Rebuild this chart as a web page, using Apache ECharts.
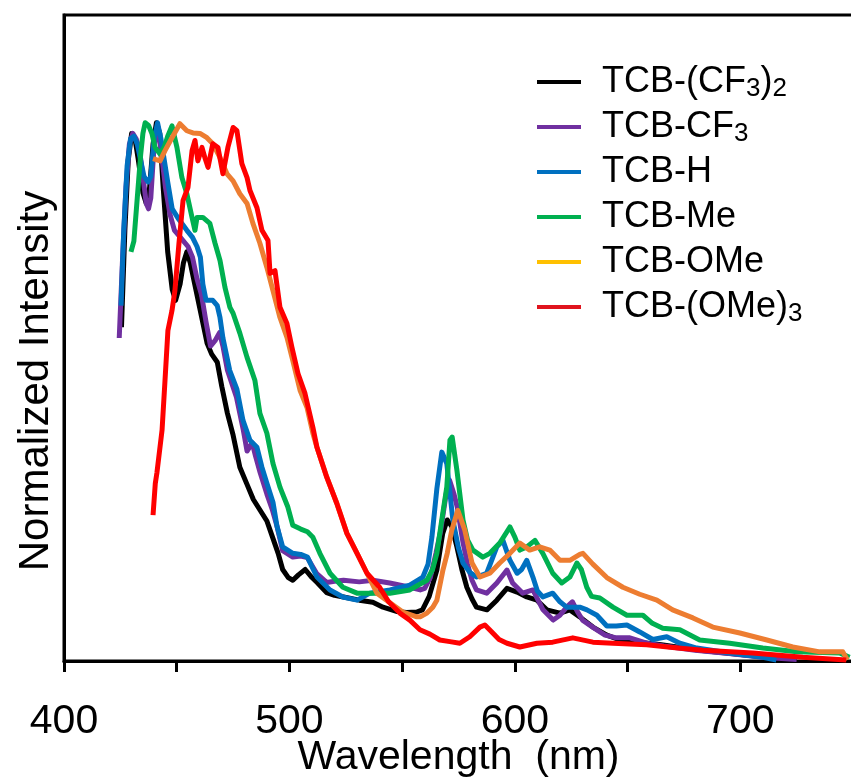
<!DOCTYPE html>
<html>
<head>
<meta charset="utf-8">
<script src="https://cdn.jsdelivr.net/npm/echarts@6/dist/echarts.min.js"></script>
<style>
html,body{margin:0;padding:0;background:#fff;}
#chart{width:851px;height:784px;}
</style>
</head>
<body>
<div id="chart"></div>
<script>
// ---- Data (wavelength nm, normalized intensity) ----
const seriesNames = ['TCB-(CF3)2', 'TCB-CF3', 'TCB-H', 'TCB-Me', 'TCB-OMe', 'TCB-(OMe)3'];
const lineColors = ['#000000', '#7030A0', '#0070C0', '#00B050', '#ED7D31', '#FF0000'];
const legendColors = ['#000000', '#7030A0', '#0070C0', '#00B050', '#FFC000', '#E0141E'];
const xTicks = [400, 500, 600, 700];

const cf3_2 = [[425.5,0.62],[427,0.8],[428.5,0.93],[430,0.98],[431.5,0.97],[433,0.93],[435,0.87],[436.5,0.85],[438,0.88],[439.5,0.96],[441,1.0],[442.5,0.98],[444,0.88],[446,0.76],[448,0.69],[449.5,0.67],[451.5,0.7],[453,0.74],[454.5,0.76],[456,0.74],[458,0.7],[460,0.66],[462,0.62],[463.5,0.59],[465.5,0.57],[468,0.555],[470,0.51],[472.5,0.46],[475,0.42],[478,0.36],[481,0.33],[484,0.3],[487,0.28],[490,0.26],[492.5,0.23],[495,0.2],[497,0.17],[499.5,0.155],[501.5,0.15],[504,0.16],[507,0.17],[510,0.155],[512.5,0.145],[516.5,0.127],[520,0.122],[524,0.119],[531,0.113],[537,0.109],[541.5,0.1],[547.5,0.092],[552,0.09],[556.5,0.091],[559,0.095],[562,0.12],[565.4,0.169],[568,0.237],[570,0.262],[572,0.25],[574.3,0.212],[576.5,0.17],[578.7,0.137],[581,0.115],[583,0.1],[587.6,0.095],[592,0.113],[596.5,0.135],[601,0.128],[605.3,0.119],[609.8,0.113],[614.2,0.095],[620,0.089],[624.4,0.095],[628.8,0.082],[634.6,0.063],[640.8,0.048],[646.6,0.039],[655,0.035],[665,0.03],[682,0.02],[700,0.012],[715,0.006],[725,0.003]];

const cf3 = [[424.5,0.6],[426,0.75],[427.5,0.88],[429,0.96],[430.5,0.98],[432,0.97],[433.5,0.95],[435,0.9],[436.5,0.85],[437.5,0.84],[438.5,0.86],[440,0.96],[441.5,0.99],[443,0.95],[445,0.88],[447,0.83],[449,0.8],[451,0.79],[453,0.78],[455,0.77],[457,0.75],[459,0.71],[461,0.68],[463,0.63],[465,0.585],[467,0.595],[469,0.61],[470.5,0.585],[472.5,0.54],[476.5,0.49],[479.5,0.43],[481.2,0.39],[483.5,0.405],[485,0.38],[487,0.35],[490,0.31],[492.5,0.28],[494.5,0.25],[497,0.205],[501.5,0.193],[505,0.195],[508,0.192],[512,0.163],[516.5,0.146],[520,0.148],[524,0.15],[531,0.147],[537,0.15],[544.5,0.145],[553.5,0.137],[558,0.132],[560,0.135],[562.5,0.155],[565,0.2],[567,0.24],[569.5,0.31],[571,0.336],[573,0.31],[574.5,0.285],[577,0.22],[579,0.18],[581,0.15],[583,0.132],[587.5,0.126],[592,0.145],[596.5,0.169],[599,0.145],[603.5,0.126],[608,0.132],[612.5,0.095],[617,0.076],[620,0.085],[623,0.1],[625.5,0.11],[628,0.09],[630,0.076],[634.5,0.063],[640,0.048],[645,0.043],[651,0.043],[658.5,0.033],[666,0.028],[680,0.02],[695,0.014],[710,0.007],[725,0.003]];

const tcbH = [[425.3,0.66],[426.5,0.8],[428,0.92],[429.5,0.97],[431,0.975],[432.5,0.96],[434,0.93],[435.5,0.9],[437.3,0.89],[438.5,0.9],[440,0.97],[441.5,1.0],[443,0.97],[444.5,0.93],[446,0.89],[448,0.84],[451,0.82],[454.5,0.8],[457,0.787],[459,0.77],[460.5,0.75],[461.6,0.7],[463,0.67],[466,0.67],[468,0.66],[469.2,0.638],[470.5,0.6],[473.5,0.54],[476.7,0.505],[479.4,0.447],[482.5,0.41],[485.6,0.397],[487.8,0.36],[490,0.33],[492.7,0.295],[494.5,0.25],[497,0.212],[501.5,0.2],[505,0.198],[508,0.193],[510,0.175],[512.2,0.156],[518,0.132],[523.7,0.119],[530,0.113],[535.7,0.126],[544.6,0.132],[553.4,0.141],[559.2,0.156],[561.5,0.18],[563.2,0.23],[565.4,0.32],[567.6,0.388],[569.8,0.367],[572.5,0.262],[575,0.21],[577,0.182],[580,0.165],[583,0.156],[587.5,0.163],[590,0.19],[592,0.212],[594.7,0.224],[597.8,0.187],[601,0.163],[603,0.17],[605.3,0.187],[608,0.156],[610,0.13],[612.4,0.119],[616.8,0.126],[620,0.11],[623,0.1],[628.8,0.1],[632,0.095],[636.4,0.085],[640.8,0.065],[645,0.065],[649.7,0.067],[655.4,0.054],[661.2,0.04],[667.4,0.045],[673.2,0.033],[680.7,0.024],[695.3,0.015],[710,0.007],[716,0.002]];

const tcbMe = [[429.7,0.76],[431,0.78],[432.5,0.86],[434,0.94],[435,0.98],[436,1.0],[437.5,0.995],[439,0.98],[440.4,0.954],[442.6,0.942],[444.5,0.955],[446,0.975],[447.9,0.994],[450.1,0.954],[452.3,0.898],[454.5,0.868],[456.8,0.824],[458.1,0.8],[459,0.824],[461.6,0.824],[464.7,0.813],[467,0.776],[469.2,0.744],[471.4,0.694],[473.6,0.657],[475,0.646],[478,0.609],[481.2,0.564],[484.7,0.521],[486.9,0.46],[490,0.423],[492.7,0.367],[495.8,0.323],[499.3,0.286],[501.5,0.252],[505,0.245],[508,0.24],[510.4,0.23],[513.5,0.2],[518,0.163],[523.7,0.137],[530,0.126],[535.7,0.126],[544.6,0.126],[553.4,0.132],[561,0.15],[563.5,0.17],[565.4,0.2],[567.5,0.26],[569.8,0.323],[571.2,0.41],[572.2,0.416],[574.3,0.354],[577,0.262],[579,0.225],[581.4,0.206],[585.8,0.193],[588.9,0.2],[593.3,0.219],[597.8,0.249],[600,0.23],[602.2,0.206],[605.3,0.212],[608.9,0.224],[612.4,0.2],[616.8,0.163],[620.8,0.145],[624.4,0.156],[627.5,0.182],[629.5,0.17],[631.9,0.137],[634,0.12],[637.7,0.117],[643.5,0.1],[649.7,0.085],[656.8,0.085],[661,0.07],[665.6,0.061],[673.2,0.058],[682,0.039],[695.3,0.033],[710,0.024],[725,0.017],[744,0.015],[748.5,0.007]];

const tcbOMe = [[439.5,0.933],[442.6,0.929],[444.8,0.948],[447.9,0.972],[451.4,0.998],[454.5,0.985],[457.2,0.981],[460.3,0.98],[463.4,0.972],[466,0.961],[469.2,0.935],[472.3,0.905],[475,0.892],[478,0.868],[481.2,0.85],[483.8,0.813],[486.9,0.776],[490,0.731],[492.7,0.688],[495.8,0.638],[498.9,0.601],[501.5,0.558],[504.7,0.503],[507.8,0.471],[510.4,0.423],[512.2,0.397],[516.6,0.341],[521,0.293],[525.5,0.237],[530,0.2],[534.4,0.163],[538.8,0.126],[544.6,0.108],[550.3,0.091],[556.5,0.082],[558,0.082],[561,0.089],[563.6,0.1],[565.4,0.113],[568.1,0.169],[570,0.2],[572,0.243],[574.7,0.28],[577.8,0.243],[581,0.182],[584.5,0.156],[588.9,0.163],[593.3,0.182],[597.8,0.2],[602.2,0.219],[606.6,0.206],[611,0.212],[615.5,0.206],[620,0.187],[624.4,0.187],[628.8,0.198],[630.2,0.2],[634.6,0.18],[640.8,0.155],[647.9,0.137],[655.4,0.124],[663,0.113],[670,0.095],[679,0.08],[687.8,0.063],[699.8,0.052],[711.8,0.039],[723.3,0.026],[735.3,0.017],[745.5,0.017],[747.5,0.002]];

const ome3 = [[439.5,0.271],[440.5,0.33],[441.2,0.349],[443.5,0.429],[444.8,0.521],[446.1,0.614],[447.9,0.651],[449.2,0.688],[451,0.776],[452.8,0.855],[455,0.88],[456.8,0.948],[458.1,0.967],[459.4,0.929],[461.2,0.954],[462.5,0.935],[463.9,0.917],[466,0.961],[468.3,0.954],[470.5,0.905],[472.7,0.954],[475,0.991],[476.7,0.985],[478.9,0.924],[481.2,0.898],[482.5,0.874],[485.6,0.842],[487.8,0.8],[490.5,0.781],[491.4,0.72],[493.6,0.725],[495.8,0.657],[498.9,0.627],[501.1,0.583],[503.8,0.534],[506.9,0.497],[510.4,0.434],[512.2,0.397],[516.6,0.341],[521,0.293],[525.5,0.237],[530,0.2],[534.4,0.163],[540,0.137],[544,0.11],[549,0.089],[553.4,0.076],[557.9,0.058],[562.3,0.05],[566.7,0.039],[571.2,0.036],[575.6,0.033],[580,0.045],[584.5,0.063],[586.7,0.067],[590.2,0.052],[593,0.04],[596.5,0.033],[602.2,0.026],[609.8,0.033],[616.8,0.035],[625.7,0.043],[634.6,0.035],[643.5,0.033],[658.5,0.03],[670,0.025],[683.4,0.02],[705.5,0.015],[727.7,0.007],[747,0.002]];

const allData = [cf3_2, cf3, tcbH, tcbMe, tcbOMe, ome3];

const FONT = "'Liberation Sans', Arial, sans-serif";
const chart = echarts.init(document.getElementById('chart'), null, {renderer: 'canvas'});

const option = {
  animation: false,
  backgroundColor: '#fff',
  grid: {left: 64, width: 789, top: 15, height: 646, outerBoundsMode: 'none', containLabel: false,
         show: true, borderColor: '#000', borderWidth: 3, backgroundColor: 'transparent'},
  xAxis: {
    type: 'value', min: 400, max: 750, interval: 50,
    axisLine: {lineStyle: {color: '#000', width: 3}},
    axisTick: {show: true, inside: false, length: 11, lineStyle: {color: '#000', width: 3}},
    axisLabel: {
      fontSize: 41, fontFamily: FONT, color: '#000', margin: 40,
      formatter: v => xTicks.includes(v) ? String(v) : ''
    },
    splitLine: {show: false},
    name: 'Wavelength  (nm)', nameLocation: 'middle', nameGap: 76, nameMoveOverlap: false,
    nameTextStyle: {fontSize: 41, fontFamily: FONT, color: '#000', verticalAlign: 'top'}
  },
  yAxis: {
    type: 'value', min: 0, max: 1.2,
    axisLine: {show: true, lineStyle: {color: '#000', width: 3}},
    axisTick: {show: false}, axisLabel: {show: false}, splitLine: {show: false}
  },
  legend: {
    orient: 'vertical', left: 537, top: 62, padding: 0,
    itemWidth: 44, itemHeight: 4, itemGap: 5, icon: 'rect',
    data: seriesNames.map((n, i) => ({name: n, itemStyle: {color: legendColors[i]}})),
    formatter: n => n.replace(/(\d)/g, '{s|$1}'),
    textStyle: {
      fontSize: 36, fontFamily: FONT, color: '#000', lineHeight: 40, padding: [0, 0, 0, 16],
      rich: {s: {fontSize: 26, fontFamily: FONT, color: '#000', lineHeight: 18, verticalAlign: 'bottom'}}
    }
  },
  graphic: [{
    type: 'text', x: 36, y: 381, rotation: Math.PI / 2,
    style: {text: 'Normalized Intensity', fontSize: 42, fontFamily: FONT, fill: '#000', align: 'center', verticalAlign: 'middle'}
  }],
  series: seriesNames.map((n, i) => ({
    name: n, type: 'line', data: allData[i], showSymbol: false, symbol: 'none',
    lineStyle: {color: lineColors[i], width: 5, join: 'round'},
    itemStyle: {color: lineColors[i]},
    clip: true
  }))
};
chart.setOption(option);
</script>
</body>
</html>
